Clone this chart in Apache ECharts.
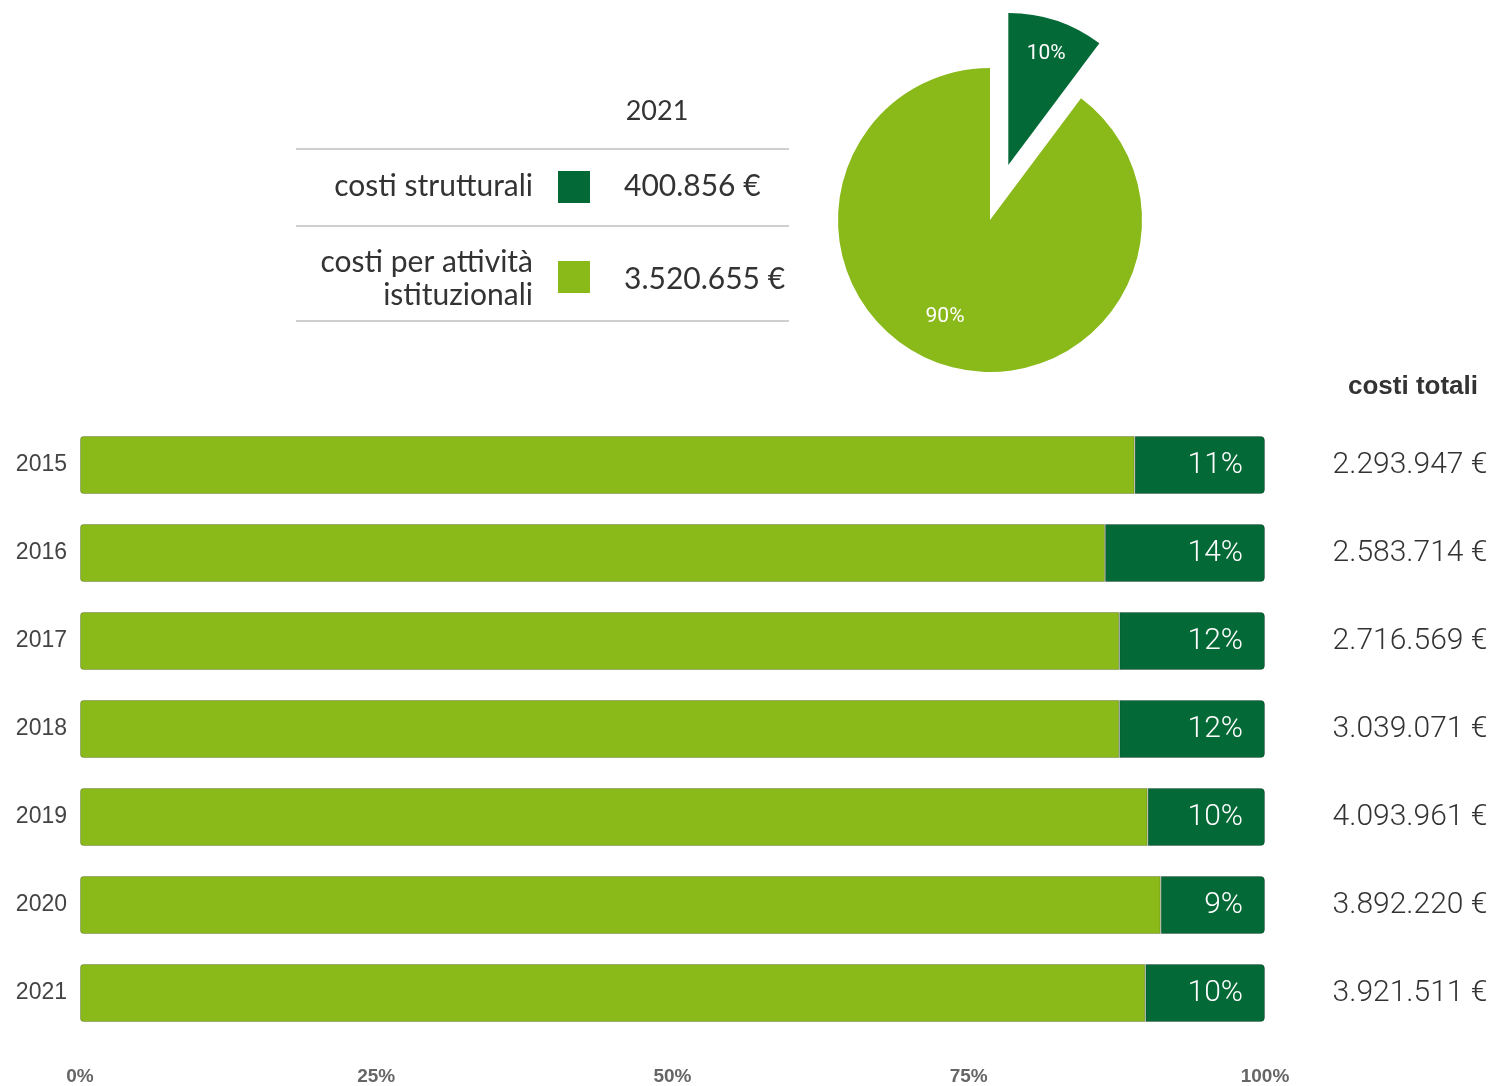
<!DOCTYPE html>
<html>
<head>
<meta charset="utf-8">
<script src="https://cdn.jsdelivr.net/npm/echarts@6/dist/echarts.min.js"></script>
<style>
html,body{margin:0;padding:0;background:#fff;}
#main{width:1492px;height:1086px;}
</style>
</head>
<body>
<div id="main"></div>
<script>
// ---- data ----
const years = ['2015', '2016', '2017', '2018', '2019', '2020', '2021'];
const strutturaliPct = [11.0, 13.5, 12.3, 12.3, 9.9, 8.8, 10.1];
const istituzionaliPct = [89.0, 86.5, 87.7, 87.7, 90.1, 91.2, 89.9];
const strutturaliLabels = ['11%', '14%', '12%', '12%', '10%', '9%', '10%'];
const costiTotali = [2293947, 2583714, 2716569, 3039071, 4093961, 3892220, 3921511];
const xTicks = [0, 25, 50, 75, 100];
const pieYear = '2021';
const pieNames = ['costi strutturali', 'costi per attività\nistituzionali'];
const pieValues = [400856, 3520655];
const pieLabels = ['10%', '90%'];

// ---- styles ----
const DARK = '#036936';
const LIGHT = '#8ab91a';

function fmtEuro(v) {
  return String(v).replace(/\B(?=(\d{3})+(?!\d))/g, '.') + ' €';
}

const chart = echarts.init(document.getElementById('main'));

const tableFont = 'Lato, "Open Sans", sans-serif';
const graphics = [
  {type: 'text', x: 657, y: 111, style: {text: pieYear, font: '400 27px ' + tableFont, fill: '#333', align: 'center', verticalAlign: 'middle'}},
  {type: 'line', shape: {x1: 296, y1: 149, x2: 789, y2: 149}, style: {stroke: '#cfcfcf', lineWidth: 2}},
  {type: 'line', shape: {x1: 296, y1: 226, x2: 789, y2: 226}, style: {stroke: '#cfcfcf', lineWidth: 2}},
  {type: 'line', shape: {x1: 296, y1: 321, x2: 789, y2: 321}, style: {stroke: '#cfcfcf', lineWidth: 2}},
  {type: 'text', x: 533, y: 186, style: {text: pieNames[0], font: '400 30px ' + tableFont, fill: '#333', align: 'right', verticalAlign: 'middle'}},
  {type: 'rect', shape: {x: 558, y: 171, width: 32, height: 32}, style: {fill: DARK}},
  {type: 'text', x: 624, y: 186, style: {text: fmtEuro(pieValues[0]), font: '400 30px ' + tableFont, fill: '#333', align: 'left', verticalAlign: 'middle'}},
  {type: 'text', x: 533, y: 279, style: {text: pieNames[1], font: '400 30px ' + tableFont, fill: '#333', align: 'right', verticalAlign: 'middle', lineHeight: 33}},
  {type: 'rect', shape: {x: 558, y: 261, width: 32, height: 32}, style: {fill: LIGHT}},
  {type: 'text', x: 624, y: 279, style: {text: fmtEuro(pieValues[1]), font: '400 30px ' + tableFont, fill: '#333', align: 'left', verticalAlign: 'middle'}}
];

const option = {
  backgroundColor: '#fff',
  animation: false,
  title: {
    text: 'costi totali',
    left: 1343, top: 369,
    textStyle: {fontFamily: '"Liberation Sans", Arial, sans-serif', fontWeight: 'bold', fontSize: 26, color: '#333'}
  },
  graphic: graphics,
  grid: {left: 80, right: 227, top: 421, bottom: 49, containLabel: false},
  xAxis: {
    type: 'value', min: 0, max: 100, interval: 25,
    axisLine: {show: false}, axisTick: {show: false}, splitLine: {show: false},
    axisLabel: {
      formatter: function (v) { return xTicks.indexOf(v) >= 0 ? v + '%' : ''; },
      margin: 30, fontSize: 19, fontWeight: 'bold', color: '#666',
      fontFamily: '"Liberation Sans Narrow", "Liberation Sans", Arial, sans-serif'
    }
  },
  yAxis: [
    {
      type: 'category', data: years, inverse: true,
      axisLine: {show: false}, axisTick: {show: false},
      axisLabel: {margin: 13, fontSize: 23, color: '#444', fontFamily: '"Liberation Sans", Arial, sans-serif'}
    },
    {
      type: 'category', data: years, inverse: true, position: 'right',
      axisLine: {show: false}, axisTick: {show: false},
      axisLabel: {
        margin: 145, align: 'center', fontSize: 30, color: '#333',
        fontFamily: 'Roboto, sans-serif', fontWeight: 300,
        formatter: function (v, i) { return fmtEuro(costiTotali[i]); }
      }
    }
  ],
  series: [
    {
      type: 'bar', stack: 'tot', barWidth: 58, data: istituzionaliPct,
      itemStyle: {color: LIGHT, borderColor: 'rgba(0,0,0,0.22)', borderWidth: 1, borderRadius: [3, 0, 0, 3]},
      emphasis: {disabled: true}, silent: true
    },
    {
      type: 'bar', stack: 'tot', barWidth: 58, data: strutturaliPct,
      itemStyle: {color: DARK, borderColor: 'rgba(0,0,0,0.22)', borderWidth: 1, borderRadius: [0, 4, 4, 0]},
      label: {
        show: true, position: 'insideRight', distance: 22,
        formatter: function (p) { return strutturaliLabels[p.dataIndex]; },
        color: '#fff', fontSize: 30, fontFamily: 'Roboto, sans-serif', fontWeight: 300
      },
      emphasis: {disabled: true}, silent: true
    },
    {
      type: 'pie',
      center: [990, 220], radius: 152,
      startAngle: 90, clockwise: true,
      selectedMode: 'single', selectedOffset: 58,
      avoidLabelOverlap: false,
      emphasis: {disabled: true}, silent: true,
      labelLine: {show: false},
      data: [
        {
          name: pieNames[0], value: pieValues[0], selected: true,
          itemStyle: {color: DARK},
          label: {
            show: true, position: 'inside', formatter: pieLabels[0] + '\n \n ',
            color: '#fff', fontSize: 21, lineHeight: 36, fontFamily: 'Roboto, sans-serif',
            padding: [0, 0, 0, 26]
          }
        },
        {
          name: pieNames[1], value: pieValues[1],
          itemStyle: {color: LIGHT},
          label: {
            show: true, position: 'inside', formatter: ' \n' + pieLabels[1],
            color: '#fff', fontSize: 21, lineHeight: 44, fontFamily: 'Roboto, sans-serif',
            padding: [0, 40, 0, 0]
          }
        }
      ]
    }
  ]
};
chart.setOption(option);
</script>
</body>
</html>
